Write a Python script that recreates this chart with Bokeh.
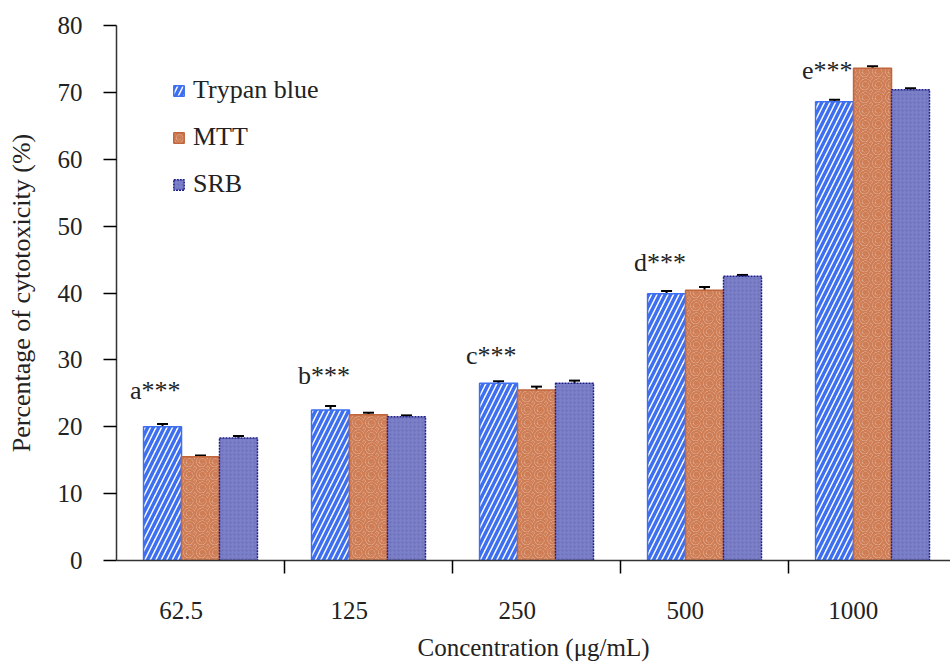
from bokeh.plotting import figure
from bokeh.models import (ColumnDataSource, Range1d, FixedTicker, Whisker, TeeHead,
                          Legend, LegendItem)
from bokeh.core.properties import value
from bokeh.embed import file_html
from bokeh.resources import INLINE

categories = ["62.5", "125", "250", "500", "1000"]
series = ["Trypan blue", "MTT", "SRB"]
trypan = [20.0, 22.5, 26.5, 39.9, 68.6]
mtt = [15.5, 21.8, 25.5, 40.4, 73.6]
srb = [18.3, 21.5, 26.5, 42.5, 70.4]
trypan_err = [0.4, 0.6, 0.3, 0.4, 0.3]
mtt_err = [0.2, 0.3, 0.5, 0.5, 0.3]
srb_err = [0.3, 0.2, 0.4, 0.2, 0.2]
sig_labels = ["a***", "b***", "c***", "d***", "e***"]
sig_y = [25.4, 27.7, 30.6, 44.5, 73.2]
y_ticks = [0, 10, 20, 30, 40, 50, 60, 70, 80]

FONT = "'Liberation Serif', 'Times New Roman', serif"

p = figure(width=950, height=664, output_backend="svg", toolbar_location=None,
           x_range=Range1d(0, 4.964), y_range=Range1d(0, 80),
           min_border_left=116, min_border_right=0, min_border_top=25,
           min_border_bottom=104)
p.outline_line_color = None
p.xgrid.visible = False
p.ygrid.visible = False
p.background_fill_color = "white"
p.border_fill_color = "white"

centers = [i + 0.5 for i in range(len(categories))]
label_pos = [i + 0.385 for i in range(len(categories))]
bw = 0.226
offsets = [-bw, 0.0, bw]

styles = [
    dict(fill_color="white", line_color="#3d6ff0", line_width=1.5,
         hatch_pattern="right_diagonal_line", hatch_color="#3d6ff0",
         hatch_scale=11, hatch_weight=3.5),
    dict(fill_color="#fbeee6", line_color="#c0653c", line_width=1.5,
         hatch_pattern="spiral", hatch_color="#cf7d55",
         hatch_scale=13, hatch_weight=2.5),
    dict(fill_color="#7b7fc8", line_color="#1f1f8a", line_width=1.5,
         line_dash="2 1", hatch_pattern="dot", hatch_color="#6a6eb8",
         hatch_scale=4, hatch_weight=1),
]

renderers = []
for vals, errs, off, st in zip([trypan, mtt, srb], [trypan_err, mtt_err, srb_err],
                               offsets, styles):
    xs = [c + off for c in centers]
    src = ColumnDataSource(dict(x=xs, top=vals, upper=[v + e for v, e in zip(vals, errs)],
                                lower=[v - e for v, e in zip(vals, errs)]))
    r = p.vbar(x="x", top="top", width=bw, source=src, **st)
    renderers.append(r)
    w = Whisker(base="x", upper="upper", lower="lower", source=src,
                line_color="black", line_width=2,
                upper_head=TeeHead(size=11, line_width=2, line_color="black"),
                lower_head=TeeHead(size=11, line_width=2, line_color="black"))
    p.add_layout(w)

lab_src = ColumnDataSource(dict(x=[c - 0.42 for c in centers], y=sig_y, t=sig_labels))
p.text(x="x", y="y", text="t", source=lab_src, text_font=value(FONT),
       text_font_size="26px", text_align="left", text_baseline="alphabetic",
       text_color="#222222")

# axes
p.yaxis.ticker = FixedTicker(ticks=y_ticks)
p.yaxis.axis_label = "Percentage of cytotoxicity (%)"
p.yaxis.major_tick_out = 13
p.yaxis.major_tick_in = 0
p.yaxis.minor_tick_out = 0
p.yaxis.minor_tick_in = 0
p.yaxis.axis_line_width = 1.5
p.yaxis.major_tick_line_width = 1.5

p.xaxis.ticker = FixedTicker(ticks=label_pos, minor_ticks=[1, 2, 3, 4])
p.xaxis.major_label_overrides = {lp: lab for lp, lab in zip(label_pos, categories)}
p.xaxis.major_tick_out = 0
p.xaxis.major_tick_in = 0
p.xaxis.minor_tick_out = 13
p.xaxis.minor_tick_in = 0
p.xaxis.minor_tick_line_width = 1.5
p.xaxis.axis_line_width = 1.5
p.xaxis.axis_label = "Concentration (\u03bcg/mL)"
p.xaxis.major_label_standoff = 28
p.xaxis.axis_label_standoff = 12

for ax in (p.xaxis, p.yaxis):
    ax.major_label_text_font = FONT
    ax.major_label_text_font_size = "25px"
    ax.major_label_text_color = "#222222"
    ax.axis_label_text_font = FONT
    ax.axis_label_text_font_size = "25px"
    ax.axis_label_text_font_style = "normal"
    ax.axis_label_text_color = "#222222"
    ax.axis_line_color = "#333333"
p.yaxis.major_label_standoff = 21
p.yaxis.axis_label_standoff = 19
p.yaxis.axis_label_text_font_size = "26px"

legend = Legend(items=[LegendItem(label=s, renderers=[r]) for s, r in zip(series, renderers)],
                location=(56, 361), orientation="vertical",
                label_text_font=FONT, label_text_font_size="26px",
                label_text_color="#222222",
                glyph_width=13, glyph_height=13, spacing=17, label_standoff=8,
                background_fill_alpha=0, border_line_color=None)
p.add_layout(legend)

open("out.html", "w").write(file_html(p, INLINE))
